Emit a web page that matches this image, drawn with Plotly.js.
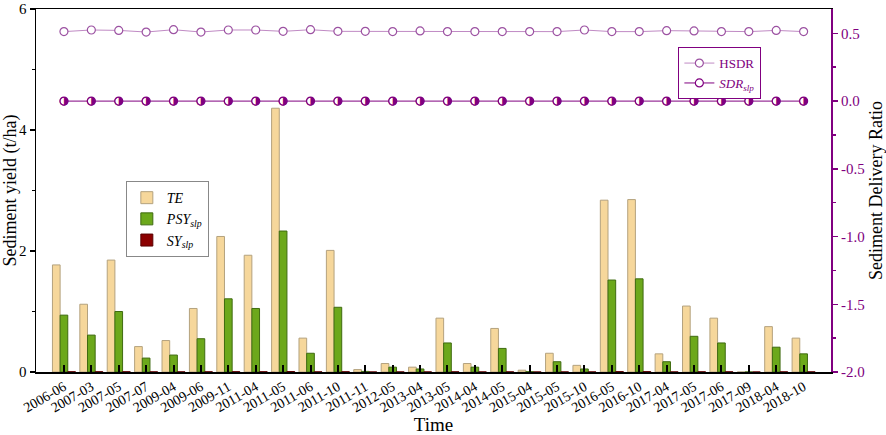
<!DOCTYPE html>
<html>
<head>
<meta charset="utf-8">
<script src="https://cdn.plot.ly/plotly-3.0.1.min.js"></script>
<style>
  html, body { margin: 0; padding: 0; background: #fff; }
  #chart { width: 886px; height: 435px; }
</style>
</head>
<body>
<div id="chart"></div>
<script>
// sampling events
const times = ["2006-06", "2007-03", "2007-05", "2007-07", "2009-04", "2009-06", "2009-11",
    "2011-04", "2011-05", "2011-06", "2011-10", "2011-11", "2012-05", "2013-04", "2013-05",
    "2014-04", "2014-05", "2015-04", "2015-05", "2015-10", "2016-05", "2016-10", "2017-04",
    "2017-05", "2017-06", "2017-09", "2018-04", "2018-10"];

// sediment yield (t/ha)
const te = [1.77, 1.12, 1.85, 0.42, 0.52, 1.05, 2.24, 1.93, 4.36, 0.56, 2.01, 0.04, 0.14, 0.08,
    0.89, 0.14, 0.72, 0.03, 0.31, 0.11, 2.84, 2.85, 0.30, 1.09, 0.89, 0, 0.75, 0.56];
const psySlp = [0.94, 0.61, 1.00, 0.23, 0.28, 0.55, 1.21, 1.05, 2.33, 0.31, 1.07, 0.01, 0.08, 0.05,
    0.48, 0.08, 0.39, 0.005, 0.17, 0.05, 1.52, 1.54, 0.17, 0.59, 0.48, 0, 0.41, 0.30];
const sySlp = [0.004, 0.004, 0.004, 0.002, 0.002, 0.003, 0.005, 0.004, 0.008, 0.002, 0.004, 0, 0.001, 0.001,
    0.003, 0.001, 0.002, 0, 0.001, 0.001, 0.006, 0.006, 0.001, 0.003, 0.003, 0, 0.002, 0.002];

// sediment delivery ratio
const hsdr = [0.513, 0.525, 0.522, 0.510, 0.527, 0.510, 0.525, 0.525, 0.515, 0.527, 0.515, 0.515,
    0.513, 0.518, 0.513, 0.513, 0.513, 0.513, 0.513, 0.525, 0.513, 0.513, 0.520, 0.518, 0.513,
    0.513, 0.522, 0.513];
const sdrSlp = times.map(() => 0);

const rightTicks = [-2.0, -1.5, -1.0, -0.5, 0.0, 0.5];
const rightTickText = ["-2.0", "-1.5", "-1.0", "-0.5", "0.0", "0.5"];

const serif = "Liberation Serif";
const purple = "#800080";

const traces = [
    {
        x: times, y: te, type: 'bar', name: '<i>TE</i>',
        marker: {color: '#F6D79B', line: {color: '#B4A27E', width: 1}},
        legend: 'legend'
    },
    {
        x: times, y: psySlp, type: 'bar', name: '<i>PSY<sub>slp</sub></i>',
        marker: {color: '#6CA81B', line: {color: '#3F6B10', width: 1}},
        legend: 'legend'
    },
    {
        x: times, y: sySlp, type: 'bar', name: '<i>SY<sub>slp</sub></i>',
        marker: {color: '#8B0000', line: {color: '#5A0000', width: 1}},
        legend: 'legend'
    },
    {
        x: times, y: hsdr, yaxis: 'y2', type: 'scatter', mode: 'lines+markers', name: 'HSDR',
        line: {color: '#C08AC4', width: 1},
        marker: {symbol: 'circle', size: 8, color: '#fff', line: {color: '#9C52A2', width: 1.2}},
        legend: 'legend2'
    },
    {
        x: times, y: sdrSlp, yaxis: 'y2', type: 'scatter', mode: 'lines+markers',
        name: '<i>SDR<sub>slp</sub></i>',
        line: {color: purple, width: 1},
        marker: {symbol: 'circle', size: 8, color: '#fff', line: {color: purple, width: 1.2}},
        legend: 'legend2'
    },
    {
        // half-filled marker glyph on top of the open circles
        x: times, y: sdrSlp, yaxis: 'y2', type: 'scatter', mode: 'text',
        text: times.map(() => '\u25D1'), textposition: 'middle center',
        textfont: {family: 'DejaVu Sans', size: 11, color: purple},
        showlegend: false, hoverinfo: 'skip'
    }
];

const layout = {
    width: 886,
    height: 435,
    margin: {l: 36, r: 55, t: 9, b: 63},
    paper_bgcolor: '#fff',
    plot_bgcolor: '#fff',
    font: {family: serif, size: 14, color: '#000'},
    barmode: 'group',
    bargap: 0.16,
    bargroupgap: 0,
    xaxis: {
        type: 'category',
        range: [-1.02, 28.0],
        showline: true, linecolor: '#000', linewidth: 1.5, mirror: true,
        ticks: 'inside', ticklen: 7, tickwidth: 2, tickcolor: '#000',
        tickangle: -30,
        tickfont: {family: serif, size: 14},
        title: {text: 'Time', font: {family: serif, size: 19}, standoff: 0},
        showgrid: false, zeroline: false
    },
    yaxis: {
        range: [0, 6],
        tickvals: [0, 2, 4, 6],
        showline: true, linecolor: '#000', linewidth: 1.5,
        ticks: 'outside', ticklen: 5, tickwidth: 1.5, tickcolor: '#000',
        minor: {tickvals: [1, 3, 5], ticks: 'outside', ticklen: 3, tickwidth: 1.5, tickcolor: '#000'},
        tickfont: {family: serif, size: 15},
        title: {text: 'Sediment yield (t/ha)', font: {family: serif, size: 18}, standoff: 6},
        showgrid: false, zeroline: false
    },
    yaxis2: {
        overlaying: 'y', side: 'right',
        range: [-2, 0.68],
        tickvals: rightTicks, ticktext: rightTickText,
        showline: true, linecolor: purple, linewidth: 2,
        ticks: 'outside', ticklen: 5, tickwidth: 1.5, tickcolor: purple,
        minor: {dtick: 0.25, ticks: 'outside', ticklen: 3, tickwidth: 1.5, tickcolor: purple},
        tickfont: {family: serif, size: 15, color: purple},
        title: {text: 'Sediment Delivery Ratio', font: {family: serif, size: 18, color: '#000'}, standoff: 8},
        showgrid: false, zeroline: false
    },
    legend: {
        x: 0.113, y: 0.526, xanchor: 'left', yanchor: 'top',
        bgcolor: '#fff', bordercolor: '#888', borderwidth: 1,
        font: {family: serif, size: 14, color: '#000'},
        tracegroupgap: 0, itemwidth: 30
    },
    legend2: {
        x: 0.808, y: 0.895, xanchor: 'left', yanchor: 'top',
        bgcolor: '#fff', bordercolor: purple, borderwidth: 1,
        font: {family: serif, size: 13, color: purple},
        tracegroupgap: 0, itemwidth: 30
    },
    showlegend: true
};

Plotly.newPlot('chart', traces, layout, {displayModeBar: false, staticPlot: true});
</script>
</body>
</html>
